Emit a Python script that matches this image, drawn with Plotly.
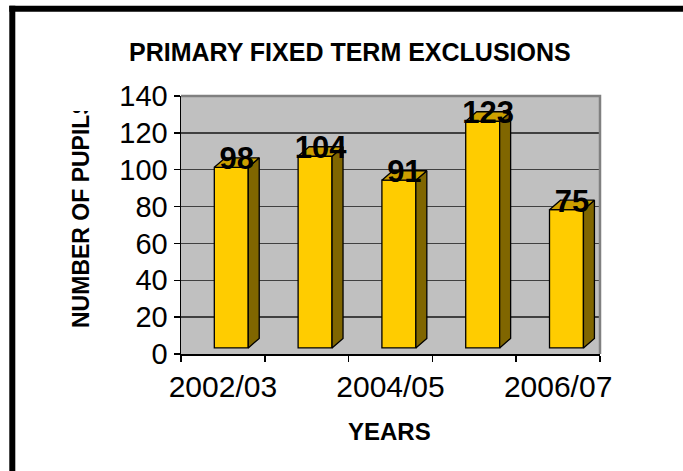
import plotly.graph_objects as go

# Primary fixed-term exclusions per school year
years = ["2002/03", "2003/04", "2004/05", "2005/06", "2006/07"]
pupils = [98, 104, 91, 123, 75]
y_ticks = [0, 20, 40, 60, 80, 100, 120, 140]
labelled_years = ["2002/03", "2004/05", "2006/07"]

# Canvas and plot-area geometry (pixels)
W, H = 683, 471
ML, MR, MT, MB = 181, 83, 96, 117
PW, PH = W - ML - MR, H - MT - MB


def paper_x(px):
    return (px - ML) / PW


def paper_y(py):
    return (H - MB - py) / PH


# Pseudo-3D column styling (axis units)
BAR_W = 0.405      # width of the front face
SHIFT = 0.10       # front face offset from the category centre
LIFT = 3.3         # floor lift of the front face
DX, DY = 0.131, 5.15  # depth vector of the extrusion

FRONT = "#FFCC00"
SIDE = "#806600"
TOP = "#CCA000"
WALL = "#C0C0C0"

idx = list(range(len(years)))

fig = go.Figure()

# Front faces
fig.add_trace(go.Bar(
    x=idx, y=pupils, base=[LIFT] * len(pupils),
    width=BAR_W, offset=SHIFT - BAR_W / 2,
    marker=dict(color=FRONT, line=dict(color="black", width=1.3)),
    hoverinfo="skip", showlegend=False,
))

# Side and top faces built from the same values
side_x, side_y, top_x, top_y = [], [], [], []
for i, v in zip(idx, pupils):
    xl = i + SHIFT - BAR_W / 2
    xr = i + SHIFT + BAR_W / 2
    b = LIFT
    t = LIFT + v
    side_x += [xr, xr + DX, xr + DX, xr, xr, None]
    side_y += [b, b + DY, t + DY, t, b, None]
    top_x += [xl, xl + DX, xr + DX, xr, xl, None]
    top_y += [t, t + DY, t + DY, t, t, None]

fig.add_trace(go.Scatter(
    x=side_x, y=side_y, mode="lines", fill="toself", fillcolor=SIDE,
    line=dict(color="black", width=1.3), hoverinfo="skip", showlegend=False,
))
fig.add_trace(go.Scatter(
    x=top_x, y=top_y, mode="lines", fill="toself", fillcolor=TOP,
    line=dict(color="black", width=1.3), hoverinfo="skip", showlegend=False,
))

# Value labels sitting on the column tops
fig.add_trace(go.Scatter(
    x=[i + SHIFT + DX / 2 for i in idx],
    y=[v + LIFT + DY - 2 for v in pupils],
    mode="text",
    text=[f"<b>{v}</b>" for v in pupils],
    textposition="middle center",
    textfont=dict(family="Liberation Sans, Arial", size=31, color="black"),
    hoverinfo="skip", showlegend=False,
))

font = "Liberation Sans, Arial"

# Chart frame: only its top and left edges fall inside the canvas
FRAME = 6
fx0, fy0 = paper_x(12.3), paper_y(8.8)
fx1, fy1 = paper_x(W), paper_y(H)

fig.update_layout(
    width=W, height=H, autosize=False,
    margin=dict(l=ML, r=MR, t=MT, b=MB, pad=0),
    paper_bgcolor="white", plot_bgcolor=WALL,
    showlegend=False,
    bargap=0,
    font=dict(family=font, color="black"),
    xaxis=dict(
        range=[-0.5, len(years) - 0.5],
        tickmode="array",
        tickvals=[years.index(y) for y in labelled_years],
        ticktext=labelled_years,
        ticks="", showgrid=False, zeroline=False,
        showline=True, linecolor="black", linewidth=1.5,
        tickfont=dict(family=font, size=30, color="black"),
        ticklabelstandoff=5,
        minor=dict(
            tickmode="array",
            tickvals=[i - 0.5 for i in range(len(years) + 1)],
            ticks="outside", ticklen=6, tickcolor="black", tickwidth=1.5,
            showgrid=False,
        ),
        fixedrange=True,
    ),
    yaxis=dict(
        range=[0, 140],
        tickmode="array", tickvals=y_ticks,
        ticks="outside", ticklen=6, tickcolor="black", tickwidth=1.5,
        showline=True, linecolor="black", linewidth=1.5,
        showgrid=True, gridcolor="#404040", gridwidth=1.5,
        zeroline=False,
        tickfont=dict(family=font, size=29, color="black"),
        fixedrange=True,
    ),
    shapes=[
        # wall edge along the top and right
        dict(type="path", xref="paper", yref="paper",
             path="M 0,1 L 1,1 L 1,0", line=dict(color="#808080", width=2.5),
             layer="above"),
        # frame: top edge and left edge as filled strips
        dict(type="rect", xref="paper", yref="paper",
             x0=paper_x(12.3 - FRAME / 2), x1=fx1,
             y0=paper_y(8.8 - FRAME / 2), y1=paper_y(8.8 + FRAME / 2),
             fillcolor="black", line=dict(width=0)),
        dict(type="rect", xref="paper", yref="paper",
             x0=paper_x(12.3 - FRAME / 2), x1=paper_x(12.3 + FRAME / 2),
             y0=paper_y(8.8 - FRAME / 2), y1=fy1,
             fillcolor="black", line=dict(width=0)),
    ],
    annotations=[
        dict(text="<b>PRIMARY FIXED TERM EXCLUSIONS</b>",
             xref="paper", yref="paper", x=paper_x(350), y=paper_y(52),
             xanchor="center", yanchor="middle", showarrow=False,
             font=dict(family=font, size=25, color="black")),
        dict(text="<b>YEARS</b>",
             xref="paper", yref="paper", x=paper_x(389), y=paper_y(431),
             xanchor="center", yanchor="middle", showarrow=False,
             font=dict(family=font, size=24, color="black")),
        dict(text="<b>NUMBER OF PUPILS</b>", textangle=-90,
             xref="paper", yref="paper", x=paper_x(81), y=paper_y(214),
             xanchor="center", yanchor="middle", showarrow=False,
             font=dict(family=font, size=23, color="black")),
        # the axis title is cut off at the top of its box
        dict(text=" ", xref="paper", yref="paper",
             x=paper_x(81), y=paper_y(110.7),
             xanchor="center", yanchor="bottom", showarrow=False,
             width=44, height=40, bgcolor="white", borderpad=0, borderwidth=0),
    ],
)

fig.write_html("out.html", config={"displayModeBar": False, "staticPlot": True})
